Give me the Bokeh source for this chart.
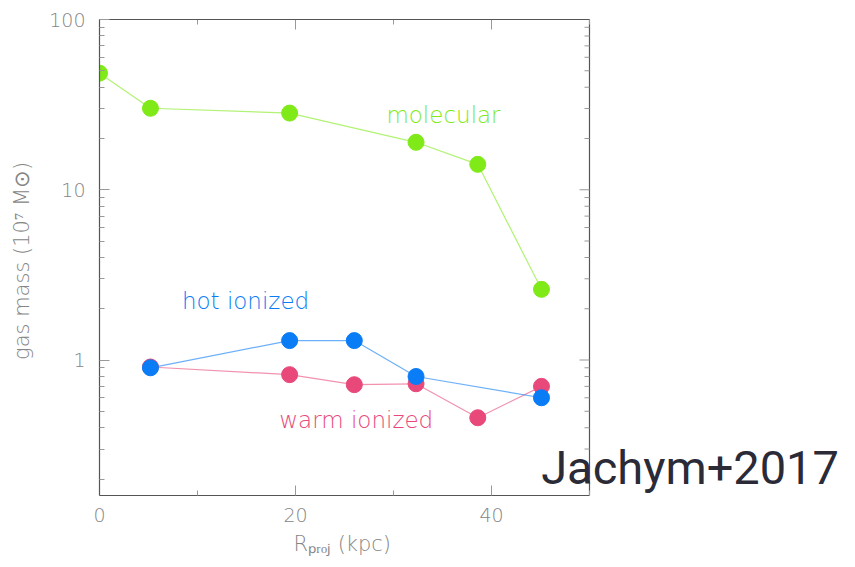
import math
from bokeh.plotting import figure
from bokeh.models import Range1d, FixedTicker, Label, LinearAxis, Title
from bokeh.embed import file_html
from bokeh.resources import INLINE

# data
mol_x = [0.0, 5.2, 19.4, 32.3, 38.6, 45.1]
mol_y = [48.4, 30.1, 28.2, 19.0, 14.1, 2.6]
hot_x = [5.2, 19.4, 26.0, 32.3, 45.1]
hot_y = [0.90, 1.30, 1.30, 0.80, 0.60]
warm_x = [5.2, 19.4, 26.0, 32.3, 38.6, 45.1]
warm_y = [0.91, 0.82, 0.716, 0.725, 0.458, 0.70]

x_ticks = [0, 20, 40]
x_minor = [10, 30, 50]
y_ticks = [1, 10, 100]
y_tick_labels = {1: "1", 10: "10", 100: "100"}
y_minor = [m * 10.0 ** e for e in (-1, 0, 1) for m in range(2, 10)]

X_MIN, X_MAX = 0, 50
Y_MIN, Y_MAX = 0.16, 100

# the drawing area extends to the right window edge so that the citation
# text can overlap the box; the visible box ends at X_MAX
W, H = 855, 567
LEFT, BOTTOM, TOP = 99, 72, 19
BOX_PX = 490  # pixel width of the 0..50 box
X_END = X_MAX * (W - LEFT) / BOX_PX

GREEN = "#7fea17"
BLUE = "#0a7cf5"
PINK = "#e8497a"
TICK_TXT = "#858585"
LINE_C = "#555555"
TICK_C = "#999999"
FONT = "DejaVu Sans Light"

p = figure(width=W, height=H, x_range=Range1d(X_MIN, X_END), y_range=Range1d(Y_MIN, Y_MAX),
           y_axis_type="log", output_backend="svg", toolbar_location=None,
           min_border_left=LEFT, min_border_right=0, min_border_top=TOP, min_border_bottom=BOTTOM)
p.grid.visible = False
p.outline_line_color = None
p.background_fill_color = "white"
p.border_fill_color = "white"

for ax in (p.xaxis[0], p.yaxis[0]):
    ax.axis_line_color = LINE_C
    ax.axis_line_width = 1.2
    ax.major_tick_in = 10
    ax.major_tick_out = 0
    ax.minor_tick_in = 5
    ax.minor_tick_out = 0
    ax.major_tick_line_color = TICK_C
    ax.minor_tick_line_color = TICK_C
    ax.major_label_text_font = FONT
    ax.major_label_text_font_size = "19px"
    ax.major_label_text_color = TICK_TXT
    ax.axis_label_text_font = FONT
    ax.axis_label_text_font_size = "21px"
    ax.axis_label_text_font_style = "normal"
    ax.axis_label_text_color = TICK_TXT

p.xaxis.ticker = FixedTicker(ticks=x_ticks, minor_ticks=x_minor)
p.xaxis.bounds = (X_MIN, X_MAX)
p.yaxis.ticker = FixedTicker(ticks=y_ticks, minor_ticks=y_minor)
p.yaxis.major_label_overrides = y_tick_labels
p.yaxis.axis_label = "gas mass  (10⁷ M⊙)"
p.xaxis.major_label_standoff = 12
p.yaxis.major_label_standoff = 14
p.yaxis.axis_label_standoff = 12

# x-axis title, placed under the 0..50 box (not the widened drawing area)
p.add_layout(Title(text="Rₚᵣₒⱼ  (kpc)", align="left", offset=194, standoff=10,
                   text_font=FONT, text_font_size="21px", text_font_style="normal",
                   text_color=TICK_TXT), "below")

# top edge of the box: an axis without ticks, limited to the box
top = LinearAxis(ticker=FixedTicker(ticks=[], minor_ticks=[]), bounds=(X_MIN, X_MAX),
                 axis_line_color=LINE_C, axis_line_width=1.2,
                 major_tick_in=0, major_tick_out=0, minor_tick_in=0, minor_tick_out=0)
p.add_layout(top, "above")

# right edge of the box
p.segment(x0=[X_MAX], y0=[Y_MIN], x1=[X_MAX], y1=[Y_MAX], line_color=LINE_C, line_width=1.2)

# mirrored ticks on the top and right edges of the box
p.ray(x=[X_MAX] * len(y_ticks), y=y_ticks, length=10, length_units="screen",
      angle=math.pi, line_color=TICK_C, line_width=1)
p.ray(x=[X_MAX] * len(y_minor), y=y_minor, length=5, length_units="screen",
      angle=math.pi, line_color=TICK_C, line_width=1)
p.ray(x=x_ticks, y=[Y_MAX] * len(x_ticks), length=10, length_units="screen",
      angle=-math.pi / 2, line_color=TICK_C, line_width=1)
p.ray(x=x_minor, y=[Y_MAX] * len(x_minor), length=5, length_units="screen",
      angle=-math.pi / 2, line_color=TICK_C, line_width=1)

for xs, ys, col in [(mol_x, mol_y, GREEN), (warm_x, warm_y, PINK), (hot_x, hot_y, BLUE)]:
    p.line(xs, ys, line_color=col, line_alpha=0.6, line_width=1.2)
for xs, ys, col in [(mol_x, mol_y, GREEN), (warm_x, warm_y, PINK), (hot_x, hot_y, BLUE)]:
    p.scatter(xs, ys, size=16, fill_color=col, line_color=col)

p.add_layout(Label(x=35.1, y=27.4, text="molecular", text_color=GREEN, text_font=FONT,
                   text_font_size="23px", text_align="center", text_baseline="middle"))
p.add_layout(Label(x=14.9, y=2.23, text="hot ionized", text_color=BLUE, text_font=FONT,
                   text_font_size="23px", text_align="center", text_baseline="middle"))
p.add_layout(Label(x=26.2, y=0.446, text="warm ionized", text_color=PINK, text_font=FONT,
                   text_font_size="23px", text_align="center", text_baseline="middle"))
p.add_layout(Label(x=45.07, y=0.2325, text="Jachym+2017", text_color="#2b2b38", text_font="Roboto",
                   text_font_size="47px", text_align="left", text_baseline="alphabetic"))

open("out.html", "w").write(file_html(p, INLINE))
